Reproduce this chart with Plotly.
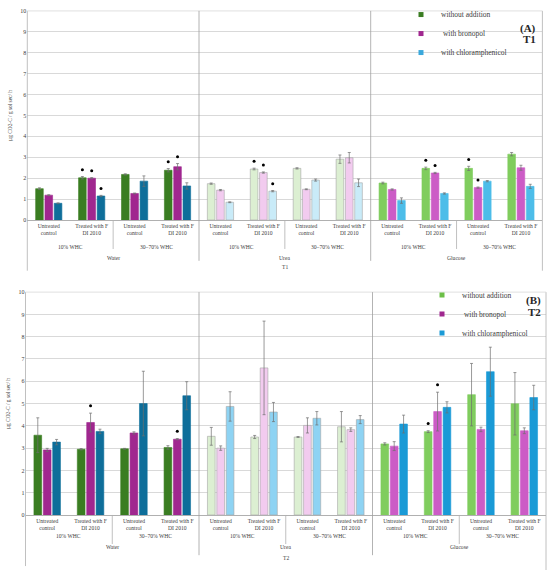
import plotly.graph_objects as go

W, H = 550, 573
FONT = "Liberation Serif"

# ---------------- data ----------------
treatments = ["Water", "Urea", "Glucose"]
whc_levels = ["10% WHC", "30–70% WHC"]
controls = ["Untreated<br>control", "Treated with F<br>DI 2010"]
series_names = ["without addition", " with bronopol", "with chloramphenicol"]
y_ticks = [0, 1, 2, 3, 4, 5, 6, 7, 8, 9, 10]

# T1 (panel A)
t1_without = [1.50, 2.02, 2.18, 2.38, 1.74, 2.44, 2.47, 2.91, 1.77, 2.47, 2.47, 3.15]
t1_without_err = [0.04, 0.06, 0.03, 0.08, 0.03, 0.04, 0.03, 0.20, 0.04, 0.06, 0.10, 0.08]
t1_bronopol = [1.19, 2.00, 1.27, 2.55, 1.43, 2.27, 1.47, 2.98, 1.46, 2.25, 1.55, 2.50]
t1_bronopol_err = [0.02, 0.03, 0.02, 0.15, 0.03, 0.03, 0.02, 0.25, 0.03, 0.03, 0.03, 0.12]
t1_chlor = [0.80, 1.15, 1.86, 1.63, 0.85, 1.38, 1.91, 1.78, 0.93, 1.27, 1.86, 1.61]
t1_chlor_err = [0.02, 0.03, 0.25, 0.15, 0.02, 0.03, 0.05, 0.18, 0.13, 0.03, 0.03, 0.10]
t1_sig_without = [0, 1, 0, 1, 0, 1, 0, 0, 0, 1, 1, 0]
t1_sig_bronopol = [0, 1, 0, 1, 0, 1, 0, 0, 0, 1, 1, 0]
t1_sig_chlor = [0, 1, 0, 0, 0, 1, 0, 0, 0, 0, 0, 0]

# T2 (panel B)
t2_without = [3.58, 2.95, 2.97, 3.03, 3.53, 3.50, 3.50, 3.96, 3.19, 3.74, 5.40, 4.99]
t2_without_err = [0.78, 0.03, 0.02, 0.08, 0.40, 0.07, 0.02, 0.68, 0.05, 0.04, 1.40, 1.40]
t2_bronopol = [2.92, 4.15, 3.68, 3.40, 3.00, 6.60, 4.02, 3.83, 3.09, 4.64, 3.84, 3.78]
t2_bronopol_err = [0.07, 0.42, 0.05, 0.03, 0.10, 2.10, 0.34, 0.08, 0.20, 0.87, 0.10, 0.13]
t2_chlor = [3.27, 3.75, 5.00, 5.35, 4.87, 4.62, 4.34, 4.28, 4.08, 4.83, 6.43, 5.27]
t2_chlor_err = [0.12, 0.10, 1.45, 0.63, 0.66, 0.43, 0.30, 0.18, 0.40, 0.25, 1.10, 0.55]
t2_sig_without = [0, 0, 0, 0, 0, 0, 0, 0, 0, 1, 0, 0]
t2_sig_bronopol = [0, 1, 0, 1, 0, 0, 0, 0, 0, 1, 0, 0]
t2_sig_chlor = [0, 0, 0, 0, 0, 0, 0, 0, 0, 0, 0, 0]

# ---------------- styles ----------------
colors_A = {
    "Water": ["#3a7d22", "#a0278f", "#0e6e9a"],
    "Urea": ["#dcefd2", "#f2cbef", "#c9ebf8"],
    "Glucose": ["#80cd5e", "#cc5cc6", "#4dbde9"],
}
colors_B = {
    "Water": ["#3a7d22", "#a0278f", "#0e6e9a"],
    "Urea": ["#dcefd2", "#f2cbef", "#8ed3f3"],
    "Glucose": ["#80cd5e", "#cc5cc6", "#1a9ad6"],
}
legend_colors_A = ["#3a7d22", "#a0278f", "#3aa8dc"]
legend_colors_B = ["#6cbf47", "#a0278f", "#1a9ad6"]

BARGAP = 0.35
BARGROUPGAP = 0.18
GRID = "#d9d9d9"
LINE = "#b0b0b0"
TXT = "#404040"

n_groups = len(treatments) * len(whc_levels) * len(controls)
xs = list(range(n_groups))
slot = (1 - BARGAP) / 3


def px_y(p):
    return 1 - p / H


def px_x(p):
    return p / W


panels = [
    dict(ax="", vals=[t1_without, t1_bronopol, t1_chlor],
         errs=[t1_without_err, t1_bronopol_err, t1_chlor_err],
         sigs=[t1_sig_without, t1_sig_bronopol, t1_sig_chlor],
         colors=colors_A, legcolors=legend_colors_A, legend="legend",
         top=7.0, bottom=218.7, left=27.3, right=542.4,
         whc_y=245.7, trt_y=256.7, t_y=266.7, sep_bot=260, whc_bot=248, axis_bot=270, right_bot=270,
         tag="(A)", tname="T1", tag_x=538, tag_y=15.7, tname_y=27.5,
         leg_x=401, leg_y=-4),
    dict(ax="2", vals=[t2_without, t2_bronopol, t2_chlor],
         errs=[t2_without_err, t2_bronopol_err, t2_chlor_err],
         sigs=[t2_sig_without, t2_sig_bronopol, t2_sig_chlor],
         colors=colors_B, legcolors=legend_colors_B, legend="legend2",
         top=291.7, bottom=517.3, left=25.5, right=546.0,
         whc_y=543.3, trt_y=554.3, t_y=566.0, sep_bot=558, whc_bot=546.7, axis_bot=569, right_bot=573,
         tag="(B)", tname="T2", tag_x=543, tag_y=300, tname_y=311.7,
         leg_x=422, leg_y=280),
]

fig = go.Figure()
shapes = []
annotations = []

for P in panels:
    xa = "x" + P["ax"]
    ya = "y" + P["ax"]
    xref = xa
    for k in range(3):
        fills, lines = [], []
        for t in treatments:
            c = P["colors"][t][k]
            for _ in range(len(whc_levels) * len(controls)):
                fills.append(c)
                lines.append("#a6a6a6" if t == "Urea" else c)
        fig.add_trace(go.Bar(
            x=xs, y=P["vals"][k], xaxis=xa, yaxis=ya, name=series_names[k],
            showlegend=False,
            marker=dict(color=fills, line=dict(color=lines, width=0.6)),
            error_y=dict(type="data", array=P["errs"][k], color="#6f6f6f",
                         thickness=0.7, width=1.5),
            hoverinfo="y",
        ))
    # significance markers
    for k in range(3):
        sx, sy = [], []
        for i in xs:
            if P["sigs"][k][i]:
                sx.append(i + (k - 1) * slot)
                sy.append(P["vals"][k][i] + P["errs"][k][i] + 0.33)
        if sx:
            fig.add_trace(go.Scatter(
                x=sx, y=sy, xaxis=xa, yaxis=ya, mode="markers", showlegend=False,
                marker=dict(color="black", size=3), hoverinfo="skip"))
    # legend entries
    for k in range(3):
        fig.add_trace(go.Scatter(
            x=[None], y=[None], xaxis=xa, yaxis=ya, mode="markers",
            name=series_names[k], legend=P["legend"],
            marker=dict(symbol="square", size=5, color=P["legcolors"][k])))

    # axis layout
    fig.layout["xaxis" + P["ax"]] = dict(
        domain=[px_x(P["left"]), px_x(P["right"])], range=[-0.5, n_groups - 0.5],
        anchor=ya, tickvals=xs, ticktext=controls * (len(treatments) * len(whc_levels)),
        tickfont=dict(family=FONT, size=5.6, color=TXT), ticks="", showgrid=False,
        zeroline=False, showline=True, linecolor=LINE, linewidth=0.8, tickangle=0,
        fixedrange=True)
    fig.layout["yaxis" + P["ax"]] = dict(
        domain=[px_y(P["bottom"]), px_y(P["top"])], range=[0, 10], anchor=xa,
        tickvals=y_ticks, tickfont=dict(family=FONT, size=6, color=TXT),
        showgrid=True, gridcolor=GRID, gridwidth=0.8, zeroline=False, showline=False,
        ticks="", title=dict(text="µg CO2-C / g sol sec/ h",
                             font=dict(family=FONT, size=5.4, color=TXT), standoff=7),
        fixedrange=True)

    # frame / separator lines
    ytop, ybot = px_y(P["top"]), px_y(P["bottom"])
    shapes.append(dict(type="line", xref="paper", yref="paper",
                       x0=px_x(P["left"]), x1=px_x(P["left"]),
                       y0=ytop, y1=px_y(P["axis_bot"]), line=dict(color=LINE, width=0.8)))
    shapes.append(dict(type="line", xref="paper", yref="paper",
                       x0=px_x(P["right"]), x1=px_x(P["right"]),
                       y0=ytop, y1=px_y(P["right_bot"]), line=dict(color=LINE, width=0.8)))
    shapes.append(dict(type="line", xref="paper", yref="paper",
                       x0=px_x(P["left"]), x1=px_x(P["right"]),
                       y0=ytop, y1=ytop, line=dict(color=GRID, width=0.8)))
    n_per_t = len(whc_levels) * len(controls)
    for ti in range(1, len(treatments)):
        xv = ti * n_per_t - 0.5
        shapes.append(dict(type="line", xref=xref, yref="paper", x0=xv, x1=xv,
                           y0=ytop, y1=px_y(P["sep_bot"]), line=dict(color="#a0a0a0", width=0.8)))
    for ti in range(len(treatments)):
        xv = ti * n_per_t + len(controls) - 0.5
        shapes.append(dict(type="line", xref=xref, yref="paper", x0=xv, x1=xv,
                           y0=ybot, y1=px_y(P["whc_bot"]), line=dict(color=LINE, width=0.8)))

    # hierarchical labels
    for ti, t in enumerate(treatments):
        for wi, w in enumerate(whc_levels):
            xc = ti * n_per_t + wi * len(controls) + (len(controls) - 1) / 2
            annotations.append(dict(text=w, x=xc, y=px_y(P["whc_y"]), xref=xref, yref="paper",
                                    showarrow=False, font=dict(family=FONT, size=5.6, color=TXT)))
        xc = ti * n_per_t + (n_per_t - 1) / 2
        annotations.append(dict(text=t, x=xc, y=px_y(P["trt_y"]), xref=xref, yref="paper",
                                showarrow=False, font=dict(family=FONT, size=5.6, color=TXT)))
    annotations.append(dict(text=P["tname"], x=(n_groups - 1) / 2, y=px_y(P["t_y"]), xref=xref,
                            yref="paper", showarrow=False, font=dict(family=FONT, size=5.6, color=TXT)))
    annotations.append(dict(text="<b>" + P["tag"] + "</b>", x=px_x(P["tag_x"]), y=px_y(P["tag_y"]),
                            xref="paper", yref="paper", xanchor="right", showarrow=False,
                            font=dict(family=FONT, size=11, color="#262626")))
    annotations.append(dict(text="<b>" + P["tname"] + "</b>", x=px_x(P["tag_x"]), y=px_y(P["tname_y"]),
                            xref="paper", yref="paper", xanchor="right", showarrow=False,
                            font=dict(family=FONT, size=11, color="#262626")))

legend_style = dict(font=dict(family=FONT, size=7.5, color=TXT), bgcolor="rgba(0,0,0,0)",
                    xanchor="left", yanchor="top", itemwidth=30, tracegroupgap=0)
fig.update_layout(
    width=W, height=H, margin=dict(l=0, r=0, t=0, b=0),
    paper_bgcolor="white", plot_bgcolor="white",
    barmode="group", bargap=BARGAP, bargroupgap=BARGROUPGAP,
    shapes=shapes, annotations=annotations,
    legend=dict(x=px_x(panels[0]["leg_x"]), y=px_y(panels[0]["leg_y"]), **legend_style),
    legend2=dict(x=px_x(panels[1]["leg_x"]), y=px_y(panels[1]["leg_y"]), **legend_style),
    font=dict(family=FONT),
)

fig.write_html("out.html", config={"displayModeBar": False},
               post_script="document.body.style.margin='0px';")
